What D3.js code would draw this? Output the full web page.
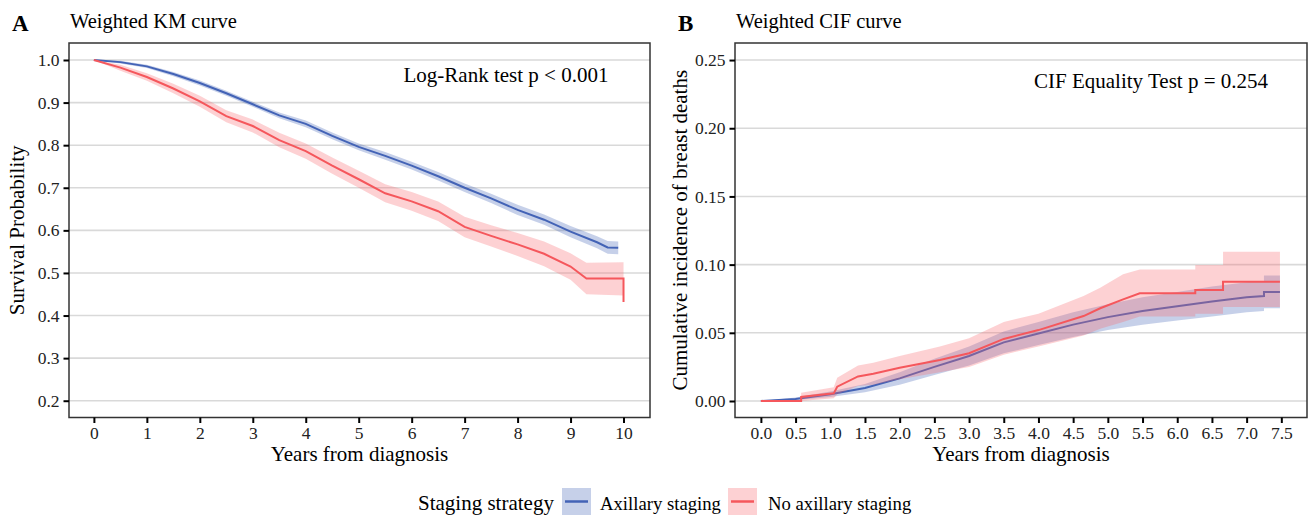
<html>
<head>
<script src="https://d3js.org/d3.v7.min.js" charset="utf-8"></script>
<style>
  body { margin: 0; background: #fff; }
  svg text { font-family: "Liberation Serif", "Times New Roman", serif; }
  .tick text { fill: #222; font-size: 17.5px; }
  .tick line { stroke: #000; stroke-width: 2; }
  .domain { display: none; }
</style>
</head>
<body>
<div id="chart"></div>
<script>
// ---- panel A: weighted KM ----
const kmTimeAx = [0, 0.5, 1, 1.5, 2, 2.5, 3, 3.5, 4, 4.5, 5, 5.5, 6, 6.5, 7, 7.5, 8, 8.5, 9, 9.5, 9.7, 9.9];
const kmSurvAx = [1.000, 0.995, 0.985, 0.967, 0.946, 0.922, 0.896, 0.870, 0.850, 0.822, 0.796, 0.775, 0.752, 0.727, 0.700, 0.675, 0.648, 0.625, 0.597, 0.572, 0.560, 0.559];
const kmLowAx  = [1.000, 0.992, 0.981, 0.962, 0.940, 0.916, 0.890, 0.863, 0.842, 0.814, 0.788, 0.766, 0.743, 0.717, 0.690, 0.664, 0.636, 0.613, 0.584, 0.558, 0.545, 0.544];
const kmHighAx = [1.000, 0.998, 0.989, 0.972, 0.952, 0.928, 0.902, 0.877, 0.858, 0.830, 0.804, 0.784, 0.761, 0.737, 0.710, 0.686, 0.660, 0.637, 0.610, 0.586, 0.575, 0.574];

const kmTimeNo = [0, 0.5, 1, 1.5, 2, 2.5, 3, 3.5, 4, 4.5, 5, 5.5, 6, 6.5, 7, 7.5, 8, 8.5, 9, 9.3, 10, 10];
const kmSurvNo = [1.000, 0.982, 0.960, 0.933, 0.903, 0.868, 0.845, 0.812, 0.786, 0.752, 0.720, 0.687, 0.668, 0.645, 0.608, 0.587, 0.567, 0.545, 0.515, 0.487, 0.487, 0.432];
const kmLowNo  = [1.000, 0.975, 0.951, 0.922, 0.890, 0.854, 0.830, 0.795, 0.768, 0.733, 0.700, 0.666, 0.646, 0.622, 0.584, 0.562, 0.540, 0.516, 0.484, 0.450, 0.447, 0.447];
const kmHighNo = [1.000, 0.989, 0.969, 0.944, 0.916, 0.882, 0.860, 0.829, 0.804, 0.771, 0.740, 0.708, 0.690, 0.668, 0.632, 0.612, 0.594, 0.574, 0.546, 0.524, 0.525, 0.525];

const kmXTicks = [0, 1, 2, 3, 4, 5, 6, 7, 8, 9, 10];
const kmYTicks = [0.2, 0.3, 0.4, 0.5, 0.6, 0.7, 0.8, 0.9, 1.0];

// ---- panel B: weighted CIF ----
const cifTimeAx = [0, 0.5, 1.0, 1.5, 2.0, 2.5, 3.0, 3.5, 4.0, 4.5, 5.0, 5.5, 6.0, 6.5, 7.0, 7.25, 7.25, 7.48];
const cifAx     = [0, 0.0015, 0.005, 0.0095, 0.0166, 0.025, 0.033, 0.043, 0.0495, 0.056, 0.0615, 0.066, 0.0695, 0.073, 0.076, 0.077, 0.080, 0.080];
const cifLowAx  = [0, 0.0008, 0.003, 0.0065, 0.012, 0.019, 0.026, 0.035, 0.041, 0.047, 0.052, 0.056, 0.059, 0.062, 0.065, 0.066, 0.068, 0.068];
const cifHighAx = [0, 0.0025, 0.007, 0.0125, 0.021, 0.031, 0.040, 0.051, 0.058, 0.065, 0.071, 0.076, 0.080, 0.084, 0.087, 0.088, 0.092, 0.092];

const cifTimeNo = [0, 0.58, 0.58, 1.05, 1.1, 1.4, 1.62, 2.0, 2.58, 3.0, 3.5, 4.0, 4.65, 4.89, 5.22, 5.46, 6.26, 6.26, 6.66, 6.66, 7.48];
const cifNo     = [0, 0, 0.003, 0.0056, 0.0105, 0.018, 0.020, 0.0244, 0.030, 0.035, 0.0455, 0.052, 0.0623, 0.068, 0.0745, 0.079, 0.079, 0.0814, 0.0814, 0.0875, 0.0875];
const cifLowNo  = [0, 0, 0.000, 0.002, 0.005, 0.011, 0.012, 0.016, 0.021, 0.025, 0.034, 0.040, 0.048, 0.053, 0.058, 0.062, 0.062, 0.064, 0.064, 0.069, 0.069];
const cifHighNo = [0, 0.001, 0.006, 0.010, 0.017, 0.026, 0.028, 0.033, 0.040, 0.046, 0.058, 0.064, 0.077, 0.083, 0.093, 0.0965, 0.0965, 0.0997, 0.0997, 0.1095, 0.1095];

const cifXTicks = [0, 0.5, 1, 1.5, 2, 2.5, 3, 3.5, 4, 4.5, 5, 5.5, 6, 6.5, 7, 7.5];
const cifYTicks = [0, 0.05, 0.10, 0.15, 0.20, 0.25];

const groups = ['Axillary staging', 'No axillary staging'];
const lineColor = ['#4363b6', '#f5575c'];
const fillColor = ['#4363b6', '#f8686c'];

function rows(t, v, lo, hi) {
  return t.map((d, i) => ({t: d, v: v[i], lo: lo[i], hi: hi[i]}));
}

const W = 1309, H = 515;
const svg = d3.select('#chart').append('svg').attr('width', W).attr('height', H);

function panel(opt) {
  const x = d3.scaleLinear().domain(opt.xDomain).range([opt.left, opt.right]);
  const y = d3.scaleLinear().domain(opt.yDomain).range([opt.bottom, opt.top]);
  const g = svg.append('g');

  g.selectAll('line.grid').data(opt.yTicks).enter().append('line')
    .attr('x1', opt.left).attr('x2', opt.right)
    .attr('y1', d => y(d)).attr('y2', d => y(d))
    .attr('stroke', '#d9d9d9').attr('stroke-width', 1.6);

  opt.series.forEach((s, i) => {
    const area = d3.area()
      .x(d => x(d.t)).y0(d => y(d.lo)).y1(d => y(d.hi));
    const line = d3.line()
      .x(d => x(d.t)).y(d => y(d.v));
    g.append('path').datum(s.data).attr('d', area)
      .attr('fill', fillColor[i]).attr('fill-opacity', 0.3);
    g.append('path').datum(s.data).attr('d', line)
      .attr('fill', 'none').attr('stroke', lineColor[i]).attr('stroke-width', 2);
  });

  g.append('rect').attr('x', opt.left).attr('y', opt.top)
    .attr('width', opt.right - opt.left).attr('height', opt.bottom - opt.top)
    .attr('fill', 'none').attr('stroke', '#333').attr('stroke-width', 1.5);

  g.append('g').attr('transform', 'translate(0,' + opt.bottom + ')')
    .call(d3.axisBottom(x).tickValues(opt.xTicks).tickSize(5.5).tickPadding(4).tickFormat(opt.xFormat));
  g.append('g').attr('transform', 'translate(' + opt.left + ',0)')
    .call(d3.axisLeft(y).tickValues(opt.yTicks).tickSize(5.5).tickPadding(4).tickFormat(opt.yFormat));

  g.append('text').attr('x', opt.left - 57).attr('y', 31)
    .style('font-size', '23px').style('font-weight', 'bold').text(opt.letter);
  g.append('text').attr('x', opt.left + 1).attr('y', 28)
    .style('font-size', '20.5px').text(opt.title);
  g.append('text').attr('x', (opt.left + opt.right) / 2).attr('y', 461)
    .attr('text-anchor', 'middle').style('font-size', '21px').text('Years from diagnosis');
  g.append('text').attr('transform', 'rotate(-90)')
    .attr('x', -(opt.top + opt.bottom) / 2).attr('y', opt.yTitleX)
    .attr('text-anchor', 'middle').style('font-size', '21px').text(opt.yTitle);
  g.append('text').attr('x', opt.noteX).attr('y', opt.noteY)
    .attr('text-anchor', 'middle').style('font-size', '21px').text(opt.note);
}

panel({
  left: 69, right: 650, top: 43, bottom: 417.5,
  xDomain: [-0.47, 10.5], yDomain: [0.1606, 1.0399],
  xTicks: kmXTicks, yTicks: kmYTicks,
  xFormat: d3.format('d'), yFormat: d3.format('.1f'),
  series: [
    {data: rows(kmTimeAx, kmSurvAx, kmLowAx, kmHighAx)},
    {data: rows(kmTimeNo, kmSurvNo, kmLowNo, kmHighNo)}
  ],
  letter: 'A', title: 'Weighted KM curve',
  yTitle: 'Survival Probability', yTitleX: 24,
  note: 'Log-Rank test p < 0.001', noteX: 506, noteY: 82
});

panel({
  left: 735, right: 1307, top: 43, bottom: 417.5,
  xDomain: [-0.373, 7.87], yDomain: [-0.0121, 0.2625],
  xTicks: cifXTicks, yTicks: cifYTicks,
  xFormat: d3.format('.1f'), yFormat: d3.format('.2f'),
  series: [
    {data: rows(cifTimeAx, cifAx, cifLowAx, cifHighAx)},
    {data: rows(cifTimeNo, cifNo, cifLowNo, cifHighNo)}
  ],
  letter: 'B', title: 'Weighted CIF curve',
  yTitle: 'Cumulative incidence of breast deaths', yTitleX: 687,
  note: 'CIF Equality Test p = 0.254', noteX: 1151, noteY: 88
});

// legend
const leg = svg.append('g');
leg.append('text').attr('x', 418).attr('y', 510).style('font-size', '21px').text('Staging strategy');
const keyX = [562, 728];
const labX = [600, 768];
groups.forEach((name, i) => {
  leg.append('rect').attr('x', keyX[i]).attr('y', 488).attr('width', 29).attr('height', 27)
    .attr('fill', fillColor[i]).attr('fill-opacity', 0.3);
  leg.append('line').attr('x1', keyX[i] + 3).attr('x2', keyX[i] + 26)
    .attr('y1', 501.5).attr('y2', 501.5)
    .attr('stroke', lineColor[i]).attr('stroke-width', 2.5);
  leg.append('text').attr('x', labX[i]).attr('y', 510).style('font-size', '18.7px').text(name);
});
</script>
</body>
</html>
